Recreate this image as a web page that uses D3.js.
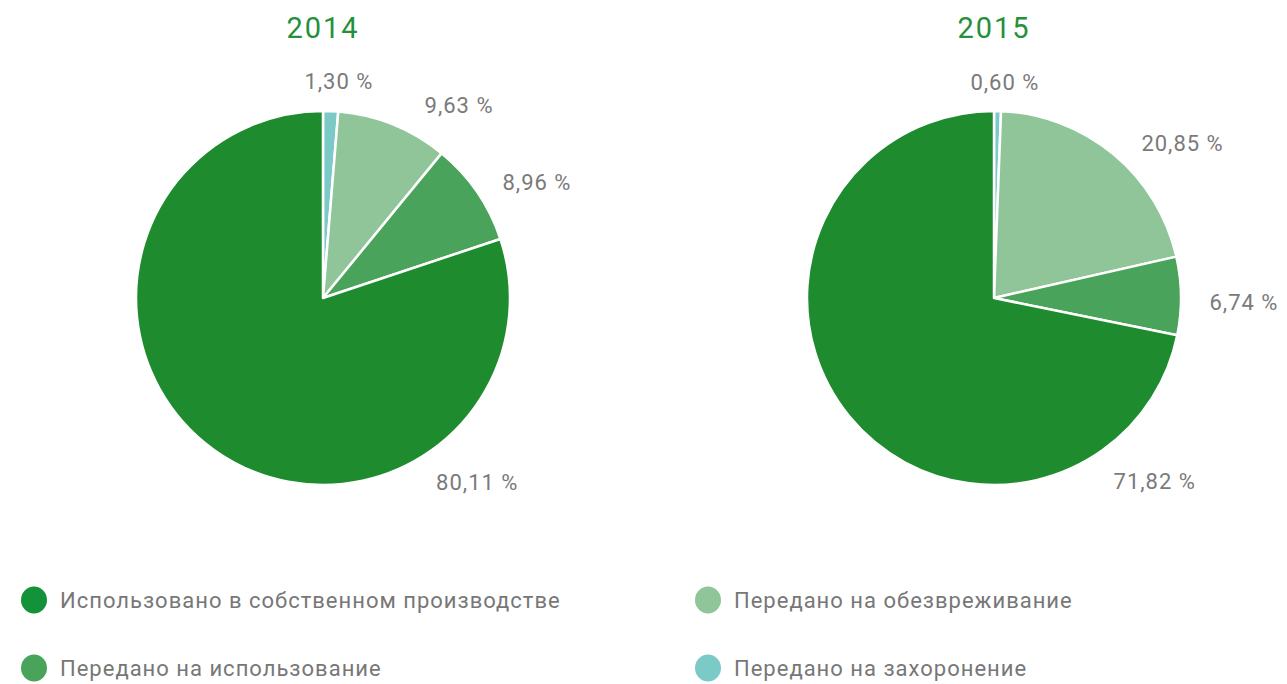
<!DOCTYPE html>
<html lang="ru">
  <head>
    <meta charset="UTF-8" />
    <title>Обращение с отходами</title>
    <script src="https://d3js.org/d3.v7.min.js"></script>
    <style>
      body {
        margin: 0;
        background: #fff;
        font-family: Roboto, "Liberation Sans", sans-serif;
      }
      .title {
        fill: #24903a;
        font-size: 29px;
        letter-spacing: 2px;
        text-anchor: middle;
      }
      .label {
        fill: #7a7a7a;
        font-size: 22px;
        letter-spacing: 1px;
        text-anchor: middle;
      }
      .legend text {
        fill: #777;
        font-size: 22px;
        letter-spacing: 1px;
      }
    </style>
  </head>
  <body>
    <svg width="1287" height="684"></svg>

    <script>
      // категории (в порядке легенды)
      const categories = [
        "Использовано в собственном производстве",
        "Передано на использование",
        "Передано на обезвреживание",
        "Передано на захоронение",
      ];
      const colors = ["#1e8b2f", "#4aa35a", "#8fc598", "#7ccac8"];
      const legendColors = ["#13923a", "#4aa35a", "#8fc598", "#7ccac8"];

      const years = ["2014", "2015"];
      const values2014 = [80.11, 8.96, 9.63, 1.3];
      const values2015 = [71.82, 6.74, 20.85, 0.6];

      // положение подписей: угол (градусы от верха по часовой) и радиус
      const labelAngles2014 = [140, 61.7, 35.2, 4.2];
      const labelAngles2015 = [138.8, 90.9, 50.6, 2.9];
      const labelRadii2014 = [240, 243, 236, 217];
      const labelRadii2015 = [244, 250, 244, 216];

      const svg = d3.select("svg");
      const radius = 187;
      const centers = [
        [323, 298],
        [994, 298],
      ];

      const fmt = (v) => v.toFixed(2).replace(".", ",") + " %";

      // сектора идут от верха по часовой: захоронение, обезвреживание, использование, собственное
      const drawOrder = [3, 2, 1, 0];

      const pie = d3
        .pie()
        .sort(null)
        .value((i) => i.v);
      const arc = d3.arc().innerRadius(0).outerRadius(radius);

      function drawPie(values, angles, radii, year, center) {
        const g = svg
          .append("g")
          .attr("transform", `translate(${center[0]},${center[1]})`);

        const items = drawOrder.map((k) => ({ k: k, v: values[k] }));
        g.selectAll("path")
          .data(pie(items))
          .join("path")
          .attr("d", arc)
          .attr("fill", (d) => colors[d.data.k])
          .attr("stroke", "#fff")
          .attr("stroke-width", 2.5)
          .attr("stroke-linejoin", "round");

        g.selectAll(".label")
          .data(values)
          .join("text")
          .attr("class", "label")
          .attr("dy", "0.35em")
          .attr("transform", (d, i) => {
            const p = d3.pointRadial((angles[i] * Math.PI) / 180, radii[i]);
            return `translate(${p[0]},${p[1]})`;
          })
          .text((d) => fmt(d));

        g.append("text")
          .attr("class", "title")
          .attr("y", -298 + 38)
          .text(year);
      }

      drawPie(values2014, labelAngles2014, labelRadii2014, years[0], centers[0]);
      drawPie(values2015, labelAngles2015, labelRadii2015, years[1], centers[1]);

      // легенда
      const legendPos = [
        [34, 600],
        [34, 668],
        [708, 600],
        [708, 668],
      ];
      const legend = svg
        .selectAll(".legend")
        .data(categories)
        .join("g")
        .attr("class", "legend")
        .attr("transform", (d, i) => `translate(${legendPos[i][0]},${legendPos[i][1]})`);

      legend
        .append("ellipse")
        .attr("rx", 13)
        .attr("ry", 13.5)
        .attr("fill", (d, i) => legendColors[i]);

      legend
        .append("text")
        .attr("x", 26)
        .attr("dy", "0.35em")
        .text((d) => d);
    </script>
  </body>
</html>
